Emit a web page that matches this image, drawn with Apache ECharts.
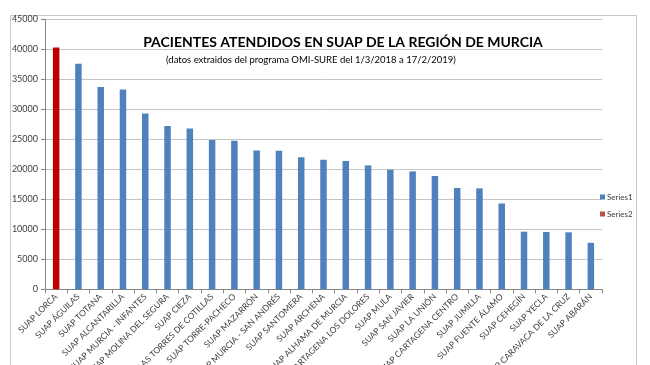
<!DOCTYPE html>
<html>
<head>
<meta charset="utf-8">
<script src="https://cdn.jsdelivr.net/npm/echarts@6/dist/echarts.min.js"></script>
<style>html,body{margin:0;padding:0;background:#fff}#c{width:650px;height:365px}</style>
</head>
<body>
<div id="c"></div>
<script>
const categories = ["SUAP LORCA","SUAP ÁGUILAS","SUAP TOTANA","SUAP ALCANTARILLA","SUAP MURCIA - INFANTES","SUAP MOLINA DEL SEGURA","SUAP CIEZA","SUAP LAS TORRES DE COTILLAS","SUAP TORRE-PACHECO","SUAP MAZARRÓN","SUAP MURCIA - SAN ANDRÉS","SUAP SANTOMERA","SUAP ARCHENA","SUAP ALHAMA DE MURCIA","SUAP CARTAGENA LOS DOLORES","SUAP MULA","SUAP SAN JAVIER","SUAP LA UNIÓN","SUAP CARTAGENA CENTRO","SUAP JUMILLA","SUAP FUENTE ÁLAMO","SUAP CEHEGÍN","SUAP YECLA","SUAP CARAVACA DE LA CRUZ","SUAP ABARÁN"];
const series1 = [null,37600,33700,33300,29300,27200,26800,24900,24750,23150,23100,22000,21600,21400,20650,19930,19650,18880,16880,16830,14300,9600,9550,9500,7750];
const series2 = [40300,null,null,null,null,null,null,null,null,null,null,null,null,null,null,null,null,null,null,null,null,null,null,null,null];
const seriesNames = ["Series1","Series2"];
const yTicks = {min:0, max:45000, interval:5000};
const titleText = "PACIENTES ATENDIDOS EN SUAP DE LA REGIÓN DE MURCIA";
const subtitleText = "(datos extraidos del programa OMI-SURE del 1/3/2018 a 17/2/2019)";

const chart = echarts.init(document.getElementById('c'), null, {renderer:'canvas'});
const font = 'Lato, "Open Sans", sans-serif';
chart.setOption({
  animation:false,
  backgroundColor:'#fff',
  textStyle:{fontFamily:font},
  title:[
    {text:titleText, left:338, top:30, textAlign:'center',
     textStyle:{fontFamily:font, fontSize:14, fontWeight:'bold', color:'#000'}},
    {text:subtitleText, left:306, top:50, textAlign:'center',
     textStyle:{fontFamily:font, fontSize:9.5, fontWeight:'normal', color:'#000'}}
  ],
  legend:{
    orient:'vertical', left:595, top:188, itemWidth:5, itemHeight:5, itemGap:9,
    textStyle:{fontSize:8, color:'#404040', padding:[0,0,0,-3]},
    data:[{name:seriesNames[0], icon:'rect', itemStyle:{color:'#4f81bd'}},
          {name:seriesNames[1], icon:'rect', itemStyle:{color:'#c0504d'}}]
  },
  graphic:[{type:'rect', shape:{x:10.5,y:15.5,width:626,height:400},
            style:{fill:null, stroke:'#c8c8c8', lineWidth:1}, silent:true, z:-1}],
  grid:{left:45, right:48, top:19.3, bottom:75.7, containLabel:false, outerBoundsMode:'none'},
  xAxis:{
    type:'category', data:categories, boundaryGap:true,
    axisLine:{lineStyle:{color:'#868686'}},
    axisTick:{show:true, length:4, lineStyle:{color:'#868686'}},
    axisLabel:{interval:0, rotate:45, fontSize:8.5, color:'#404040', margin:6}
  },
  yAxis:{
    type:'value', min:yTicks.min, max:yTicks.max, interval:yTicks.interval,
    axisLine:{show:true, lineStyle:{color:'#868686'}},
    axisTick:{show:true, length:4, lineStyle:{color:'#868686'}},
    axisLabel:{fontSize:9, color:'#404040', margin:7, formatter:function(v){return String(v);}},
    splitLine:{lineStyle:{color:'#c4c4c4'}}
  },
  series:[
    {name:seriesNames[0], type:'bar', stack:'s', data:series1, barWidth:6.5, itemStyle:{color:'#4f81bd'}},
    {name:seriesNames[1], type:'bar', stack:'s', data:series2, barWidth:6.5, itemStyle:{color:'#c00000'}}
  ]
});
</script>
</body>
</html>
